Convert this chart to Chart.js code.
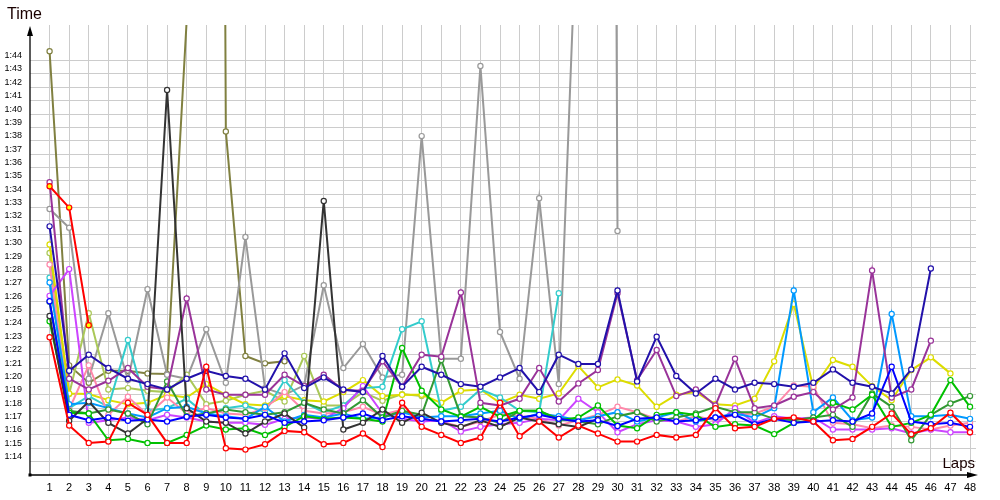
<!DOCTYPE html>
<html><head><meta charset="utf-8">
<script src="https://cdn.jsdelivr.net/npm/chart.js@4.4.1/dist/chart.umd.min.js"></script>
<style>html,body{margin:0;padding:0;background:#fff;}canvas{display:block;}</style>
</head><body>
<canvas id="c" width="1000" height="500"></canvas>
<script>
// Lap numbers (x categories)
const laps = [1,2,3,4,5,6,7,8,9,10,11,12,13,14,15,16,17,18,19,20,21,22,23,24,25,26,27,28,29,30,31,32,33,34,35,36,37,38,39,40,41,42,43,44,45,46,47,48];
// Y tick values in seconds (1:14 .. 1:44); 73 = axis line
const yTickValues = [73,74,75,76,77,78,79,80,81,82,83,84,85,86,87,88,89,90,91,92,93,94,95,96,97,98,99,100,101,102,103,104];

// Lap times in seconds, one array per driver
const redTimes = [83.3,76.7,75.4,75.5,78.4,77.5,75.4,75.4,81.1,75.0,74.9,75.3,76.3,76.2,75.3,75.4,76.1,75.1,78.4,76.6,76.0,75.4,75.8,78.4,75.9,77.0,75.8,76.7,76.1,75.5,75.5,76.0,75.8,76.0,78.0,76.5,76.6,77.2,77.3,77.0,75.6,75.7,76.6,77.6,76.05,76.5,77.66,76.2];
const navyTimes = [91.6,80.8,82.0,81.0,80.2,79.8,79.4,80.2,80.8,80.4,80.2,79.4,82.1,79.5,80.3,79.4,79.2,81.9,79.6,81.1,80.5,79.8,79.6,80.3,81.0,79.2,82.0,81.3,81.3,86.8,80.0,83.35,80.4,79.1,80.2,79.4,79.9,79.8,79.6,79.9,80.9,79.9,79.6,79.1,80.9,88.45];
const blackTimes = [84.9,77.06,78.5,76.9,76.1,77.2,101.8,78.0,77.0,76.9,76.1,77.0,77.6,76.55,93.5,76.4,76.9,77.9,76.9,77.66,76.9,76.6,77.1,76.6,77.3,77.0,76.8,76.6,77.2];
const purpleTimes = [94.9,80.2,79.4,80.05,81.0,79.6,79.4,86.2,79.4,79.0,79.0,79.0,80.5,79.65,80.5,79.35,79.3,81.5,79.6,82.0,81.85,86.66,78.4,78.2,78.7,81.0,78.5,79.85,80.85,86.6,80.1,82.35,78.9,79.4,78.2,81.7,78.0,78.2,78.85,79.2,77.9,78.8,88.3,78.8,79.4,83.05];
const blueTimes = [86.0,77.5,77.1,77.3,77.06,77.16,77.0,77.35,77.5,77.3,77.2,77.5,76.9,77.0,77.1,77.3,77.6,77.1,77.4,77.2,77.0,77.1,77.2,77.0,77.3,77.5,77.2,77.0,77.1,76.67,77.2,77.3,77.0,77.1,77.3,77.5,76.8,77.2,76.9,77.0,77.1,77.0,77.6,81.1,77.0,76.8,76.9,76.6];
const greenTimes = [84.5,77.66,77.6,75.6,75.7,75.4,75.4,76.0,76.7,76.4,76.5,76.0,76.6,77.4,77.2,77.3,77.2,77.0,82.5,79.3,77.9,77.36,78.1,77.36,77.8,77.8,77.1,77.3,78.2,76.7,76.5,77.5,77.7,77.5,76.6,76.8,76.7,76.06,76.9,77.1,78.4,77.9,79.0,76.6,76.9,77.5,80.1,78.1];
const darkGreenTimes = [85.96,77.8,77.6,77.9,77.6,76.8,80.0,77.4,77.6,77.9,77.7,77.5,77.7,78.4,77.9,77.6,78.6,77.3,77.8,77.5,81.6,77.4,77.3,76.9,77.8,77.8,77.2,77.0,76.8,77.4,77.7,77.0,77.3,77.6,78.1,77.7,77.7,77.2,77.1,77.3,77.5,76.6,79.1,78.1,75.6,77.5,78.35,78.9];
const violetTimes = [86.4,88.4,76.9,77.1,77.3,77.1,77.5,77.3,77.0,76.9,76.9,76.75,77.2,77.3,77.2,78.0,79.65,77.6,77.2,77.0,77.1,76.25,76.6,76.8,76.9,77.2,77.1,78.7,77.7,76.2,76.8,77.1,77.0,76.6,76.8,78.0,76.9,77.4,77.2,77.3,76.4,76.4,76.4,76.5,76.1,76.4,76.2,76.2];
const pinkTimes = [88.75,77.9,81.2,77.5,78.85,77.5,78.8,77.6,78.0,77.6,77.5,78.0,79.2,77.8,77.6,77.7,78.1,77.5,77.9,77.2,77.0,76.6,77.0,77.5,77.4,77.2,76.7,77.1,77.5,78.1,77.7,77.2,77.0,77.4,77.1,77.5,77.6,78.1,79.7,79.6,76.9,76.8,76.5,76.7,76.6,76.4,76.7,76.9];
const lightBlueTimes = [87.4,78.3,78.4,78.0,77.6,77.3,78.0,78.1,77.6,77.4,77.2,78.1,77.0,77.5,77.3,77.6,77.2,77.3,77.7,77.3,77.4,77.4,77.6,77.8,77.2,77.6,77.4,77.1,77.4,77.7,77.0,77.3,77.7,77.0,77.3,77.6,77.3,78.0,86.8,77.7,78.8,77.1,77.3,85.05,77.4,77.4,77.5,77.2];
const cyanTimes = [87.75,78.0,78.9,78.1,83.1,77.8,78.0,78.7,77.5,78.0,78.2,77.7,80.1,78.4,77.7,78.2,79.5,79.6,83.9,84.5,77.8,78.1,79.4,78.8,77.8,77.7,86.6];
const yellowTimes = [90.25,79.1,79.05,78.6,78.3,78.4,79.0,78.8,79.8,79.0,78.3,78.2,78.9,78.6,78.5,79.2,80.1,78.9,79.0,79.0,78.4,79.3,79.4,78.4,79.0,78.7,79.1,81.15,79.55,80.15,79.7,78.1,79.0,79.2,78.3,78.2,78.7,81.5,85.8,79.5,81.6,81.1,79.65,78.6,80.85,81.8,80.6];
const yellowGreenTimes = [89.6,79.05,85.1,79.4,79.5,79.3,79.2,80.5,78.3,78.55,79.0,79.3,78.5,81.9,78.2,78.2,79.2,78.55,79.05,78.9];
const grayTimes = [92.9,91.5,80.2,85.1,80.1,86.9,80.5,80.2,83.9,79.9,90.8,79.5,79.0,79.7,87.2,81.0,82.8,80.3,80.5,98.35,81.7,81.7,103.6,83.7,80.2,93.7,79.8,118,400,91.25];
const oliveTimes = [104.7,81.2,79.9,80.8,80.8,80.6,80.55,107,400,98.7,81.9,81.35,81.5];
const redYellowTimes = [94.6,93.0,84.2];

function pts(arr){ return arr.map((v,i)=>({x:laps[i], y:v})); }
function ds(label, arr, color, fill){
  return {label, data: pts(arr), borderColor: color, pointBorderColor: color,
    pointBackgroundColor: fill || '#ffffff', borderWidth: 2, pointRadius: 2.6,
    pointBorderWidth: 1.2, tension: 0, clip: {left:6, top:0, right:6, bottom:6}};
}
const datasets = [
  ds('R', redTimes, '#ff0000'),
  ds('RY', redYellowTimes, '#ff0000', '#ffff00'),
  ds('N', navyTimes, '#2211aa'),
  ds('B', blueTimes, '#0000ff'),
  ds('K', blackTimes, '#333333'),
  ds('P', purpleTimes, '#993399'),
  ds('G', greenTimes, '#00c000'),
  ds('DG', darkGreenTimes, '#339933'),
  ds('LB', lightBlueTimes, '#0099ff'),
  ds('V', violetTimes, '#cc44ff'),
  ds('PK', pinkTimes, '#ff88aa'),
  ds('C', cyanTimes, '#33cccc'),
  ds('Y', yellowTimes, '#dddd00'),
  ds('YG', yellowGreenTimes, '#aac858'),
  ds('GR', grayTimes, '#999999'),
  ds('O', oliveTimes, '#808040'),
];

function fmt(v){ const m=Math.floor(v/60), s=Math.round(v-m*60); return m+':'+String(s).padStart(2,'0'); }

const axesPlugin = {
  id:'axes',
  afterDraw(chart){
    const {ctx, chartArea:a} = chart;
    ctx.save();
    ctx.strokeStyle='#000'; ctx.fillStyle='#000'; ctx.lineWidth=1.3;
    ctx.beginPath(); ctx.moveTo(a.left, a.bottom); ctx.lineTo(a.left, a.top+6); ctx.stroke();
    ctx.beginPath(); ctx.moveTo(a.left, a.bottom); ctx.lineTo(a.right-4, a.bottom); ctx.stroke();
    ctx.beginPath(); ctx.moveTo(a.left, a.top+1); ctx.lineTo(a.left-3, a.top+11); ctx.lineTo(a.left+3, a.top+11); ctx.closePath(); ctx.fill();
    ctx.beginPath(); ctx.moveTo(a.right+2, a.bottom); ctx.lineTo(a.right-9, a.bottom-3); ctx.lineTo(a.right-9, a.bottom+3); ctx.closePath(); ctx.fill();
    ctx.fillRect(a.left-1.5, a.bottom-1.5, 3, 3);
    ctx.font='16px "Liberation Sans", Arial, sans-serif';
    ctx.textBaseline='middle'; ctx.textAlign='left';
    ctx.fillStyle='#1a0000';
    ctx.fillText('Time', 7, 15);
    ctx.font='15px "Liberation Sans", Arial, sans-serif';
    ctx.textAlign='right';
    ctx.fillText('Laps', 975, 464);
    ctx.restore();
  }
};

new Chart(document.getElementById('c'), {
  type:'line',
  data:{datasets},
  options:{
    responsive:false, animation:false, devicePixelRatio:1,
    layout:{padding:{top:25,right:24,left:0,bottom:0}},
    plugins:{legend:{display:false}, tooltip:{enabled:false}},
    scales:{
      x:{type:'linear', min:0, max:48.306,
        afterBuildTicks(s){ s.ticks = laps.map(v=>({value:v})); },
        afterFit(s){ s.height = 25; },
        grid:{color:'#cccccc', lineWidth:1, drawTicks:false},
        border:{display:false},
        ticks:{padding:6, color:'#000', font:{family:'"Liberation Sans", Arial, sans-serif', size:11}, maxRotation:0, autoSkip:false,
          callback:(v)=>String(v)}
      },
      y:{type:'linear', min:73, max:106.66,
        afterBuildTicks(s){ s.ticks = yTickValues.map(v=>({value:v})); },
        afterFit(s){ s.width = 30; },
        grid:{color:(c)=> (c.tick && c.tick.value===73) ? 'rgba(0,0,0,0)' : '#cccccc', lineWidth:1, drawTicks:false},
        border:{display:false},
        ticks:{padding:8, labelOffset:-5, color:'#000', font:{family:'"Liberation Sans", Arial, sans-serif', size:9}, autoSkip:false,
          callback:(v)=> v===73 ? '' : fmt(v)}
      }
    }
  },
  plugins:[axesPlugin]
});
</script>
</body></html>
